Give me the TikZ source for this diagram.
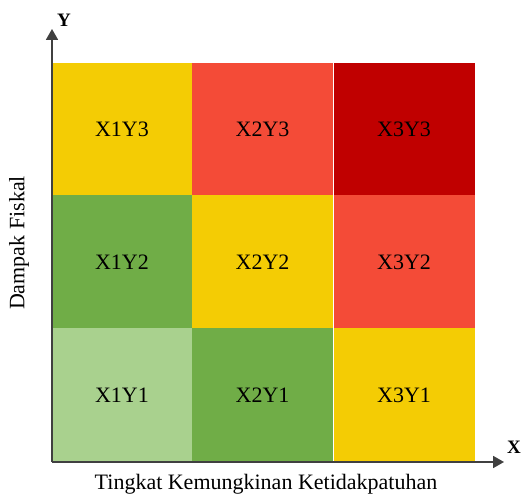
\documentclass[tikz,border=0pt]{standalone}
\usepackage{fontspec}
\setmainfont{Liberation Serif}
\usetikzlibrary{arrows.meta}
\definecolor{kuning}{HTML}{F4CC04}
\definecolor{merah}{HTML}{F44B37}
\definecolor{merahtua}{HTML}{C00000}
\definecolor{hijau}{HTML}{70AD47}
\definecolor{hijaumuda}{HTML}{A9D18E}
\tikzset{
  sel/.style={minimum width=141pt,minimum height=133pt,inner sep=0pt,
    font=\fontsize{22}{26}\selectfont},
  sumbu/.style={draw=black!75,line width=1.8pt,-{Triangle[length=11pt,width=12pt]}},
  label/.style={font=\fontsize{22}{26}\selectfont}
}
\begin{document}
\begin{tikzpicture}[x=1pt,y=1pt]
      \useasboundingbox (0,0) rectangle (524,497);
      \node[sel,fill=kuning] (x1y3) at (122,367.5) {X1Y3};
      \node[sel,fill=merah] (x2y3) at (262.5,367.5) {X2Y3};
      \node[sel,fill=merahtua] (x3y3) at (404,367.5) {X3Y3};
      \node[sel,fill=hijau] (x1y2) at (122,235) {X1Y2};
      \node[sel,fill=kuning] (x2y2) at (262.5,235) {X2Y2};
      \node[sel,fill=merah] (x3y2) at (404,235) {X3Y2};
      \node[sel,fill=hijaumuda] (x1y1) at (122,102) {X1Y1};
      \node[sel,fill=hijau] (x2y1) at (262.5,102) {X2Y1};
      \node[sel,fill=kuning] (x3y1) at (404,102) {X3Y1};
      \coordinate (o) at (52,35);
      \coordinate (ujungy) at (52,468);
      \coordinate (ujungx) at (504,35);
      \begin{scope}
        \draw[sumbu] (o) to (ujungy);
        \draw[sumbu] (o) to (ujungx);
      \end{scope}
      \node[font=\fontsize{19}{22}\selectfont\bfseries] (y) at (64,477) {Y};
      \node[font=\fontsize{19}{22}\selectfont\bfseries] (x) at (514,50) {X};
      \node[label] (tingkat) at (266,13) {Tingkat Kemungkinan Ketidakpatuhan};
      \node[label,rotate=90] (dampak) at (19,254) {Dampak Fiskal};
    \end{tikzpicture}
\end{document}
